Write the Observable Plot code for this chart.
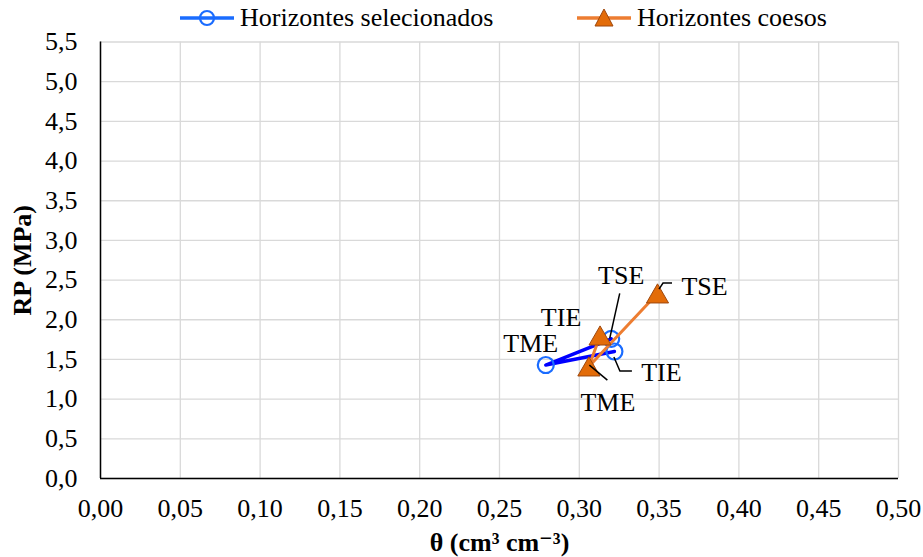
<!DOCTYPE html>
<html><head><meta charset="utf-8">
<script src="https://cdn.jsdelivr.net/npm/d3@7"></script>
<script src="https://cdn.jsdelivr.net/npm/@observablehq/plot@0.6"></script>
<style>
body{margin:0;background:#fff;font-family:"Liberation Serif","Tinos","Times New Roman","DejaVu Serif",serif;}
#legend{position:relative;height:32px;width:923px;font-size:26px;color:#000;}
.item{position:absolute;top:4px;height:28px;display:flex;align-items:center;white-space:nowrap;}
.item svg{margin-right:4px;}
</style></head>
<body>
<div id="legend"></div>
<div id="chart"></div>
<script>
// ---- data ----
const seriesNames = ["Horizontes selecionados", "Horizontes coesos"];
const horizons = ["TSE", "TME", "TIE"];
const thetaSel = [0.320, 0.279, 0.322];
const rpSel = [1.76, 1.43, 1.60];
const thetaCoe = [0.349, 0.306, 0.313];
const rpCoe = [2.33, 1.41, 1.80];
const xTicks = [0, 0.05, 0.10, 0.15, 0.20, 0.25, 0.30, 0.35, 0.40, 0.45, 0.50];
const yTicks = [0, 0.5, 1.0, 1.5, 2.0, 2.5, 3.0, 3.5, 4.0, 4.5, 5.0, 5.5];
const xLabel = "θ (cm³ cm⁻³)";
const yLabel = "RP (MPa)";

const sel = horizons.map((h, i) => ({series: seriesNames[0], horizon: h, x: thetaSel[i], y: rpSel[i]}));
const coe = horizons.map((h, i) => ({series: seriesNames[1], horizon: h, x: thetaCoe[i], y: rpCoe[i]}));

const BLUE_LINE = "#0000ff", BLUE_MARK = "#1a6cff";
const ORANGE_LINE = "#ed7d31", ORANGE_FILL = "#e36c09", ORANGE_STROKE = "#9e480e";
const FONT = "'Liberation Serif', Tinos, 'Times New Roman', 'DejaVu Serif', serif";
const fmtX = d => d.toFixed(2).replace(".", ",");
const fmtY = d => d.toFixed(1).replace(".", ",");

// ---- legend ----
const legend = document.getElementById("legend");
legend.innerHTML = `
<div class="item" style="left:180px"><svg width="56" height="20"><line x1="0" y1="10" x2="54" y2="10" stroke="${BLUE_MARK}" stroke-width="3.5"/><circle cx="27" cy="10" r="7" fill="none" stroke="${BLUE_MARK}" stroke-width="2.2"/></svg>${seriesNames[0]}</div>
<div class="item" style="left:577px"><svg width="56" height="22"><line x1="0" y1="11" x2="54" y2="11" stroke="${ORANGE_LINE}" stroke-width="3.5"/><path d="M27,2 L36,19 L18,19 Z" fill="${ORANGE_FILL}" stroke="${ORANGE_STROKE}" stroke-width="1"/></svg>${seriesNames[1]}</div>`;

// leader lines: pixel offsets relative to the data point
const leaders = [
  {d: sel[0], pts: [[-1, 0], [9, -45]]},
  {d: sel[2], pts: [[0, 6], [6, 20], [18, 20]]},
  {d: coe[0], pts: [[2, -4], [6, -10], [15, -10]]},
  {d: coe[1], pts: [[1, -1], [19, 14]]}
];
function leaderMark(index, scales) {
  const g = d3.create("svg:g").attr("fill", "none").attr("stroke", "black").attr("stroke-width", 1.5);
  for (const l of leaders) {
    const px = scales.x(l.d.x), py = scales.y(l.d.y);
    g.append("path").attr("d", "M" + l.pts.map(([dx, dy]) => `${px + dx},${py + dy}`).join("L"));
  }
  return g.node();
}

const lbl = (d, dx, dy) => Plot.text([d], {x: "x", y: "y", text: "horizon", dx, dy, fontSize: 26, fontFamily: FONT, fill: "black", textAnchor: "middle", lineAnchor: "middle"});

const chart = Plot.plot({
  width: 923,
  height: 525,
  marginTop: 9.5,
  marginBottom: 79,
  marginLeft: 100,
  marginRight: 25,
  style: {fontFamily: FONT, fontSize: "26px", color: "black", background: "white", overflow: "visible"},
  x: {domain: [0, 0.5]},
  y: {domain: [0, 5.5]},
  marks: [
    Plot.gridX(xTicks, {stroke: "#d9d9d9", strokeOpacity: 1, strokeWidth: 1.3}),
    Plot.gridY(yTicks, {stroke: "#d9d9d9", strokeOpacity: 1, strokeWidth: 1.3}),
    Plot.ruleY([0], {stroke: "black", strokeWidth: 1.5}),
    Plot.ruleX([0], {stroke: "black", strokeWidth: 1.5}),
    Plot.axisX(xTicks, {tickSize: 0, tickPadding: 20, tickFormat: fmtX, label: null, fontSize: 26, fontFamily: FONT}),
    Plot.axisY(yTicks, {tickSize: 0, tickPadding: 23, tickFormat: fmtY, label: null, fontSize: 26, fontFamily: FONT}),
    Plot.line(sel, {x: "x", y: "y", stroke: BLUE_LINE, strokeWidth: 3.5}),
    Plot.dot(sel, {x: "x", y: "y", r: 8, stroke: BLUE_MARK, strokeWidth: 2.2, fill: "none"}),
    Plot.line(coe, {x: "x", y: "y", stroke: ORANGE_LINE, strokeWidth: 3}),
    Plot.dot(coe, {x: "x", y: "y", symbol: "triangle", r: 8.2, dy: 3, fill: ORANGE_FILL, stroke: ORANGE_STROKE, strokeWidth: 1}),
    leaderMark,
    lbl(sel[0], 10, -63),
    lbl(sel[1], -15, -21),
    lbl(sel[2], 47, 21),
    lbl(coe[0], 47, -7),
    lbl(coe[1], 19, 36),
    lbl(coe[2], -39, -18),
    Plot.text([xLabel], {frameAnchor: "bottom", dy: 64, textAnchor: "middle", lineAnchor: "middle", fontWeight: "bold", fontSize: 26, fontFamily: FONT, fill: "black"}),
    Plot.text([yLabel], {frameAnchor: "left", dx: -78, rotate: -90, textAnchor: "middle", lineAnchor: "middle", fontWeight: "bold", fontSize: 26, fontFamily: FONT, fill: "black"})
  ]
});
document.getElementById("chart").appendChild(chart);
</script>
</body></html>
